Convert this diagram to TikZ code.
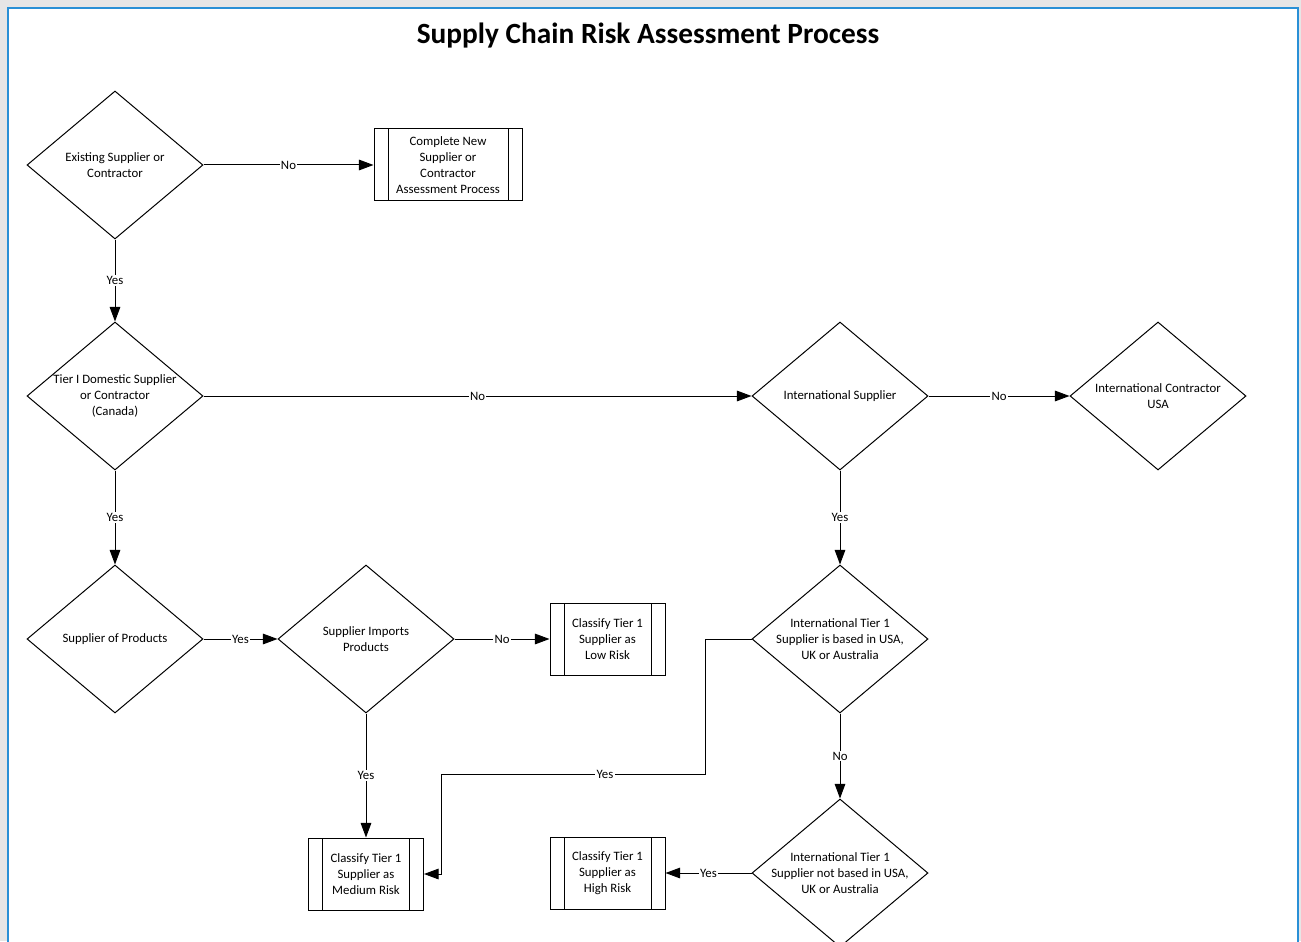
\documentclass[tikz,border=0pt]{standalone}
\usepackage{fontspec}
\setmainfont{Carlito}
\usetikzlibrary{shapes.geometric,arrows.meta}
\definecolor{frameblue}{RGB}{41,144,214}
\definecolor{pagegray}{RGB}{230,230,230}

\begin{document}
\begin{tikzpicture}[x=0.75pt,y=-0.75pt]
\tikzstyle{every node}=[font=\fontsize{9.6}{12}\selectfont]
\tikzstyle{decision}=[draw,diamond,inner sep=0pt,minimum width=132pt,minimum height=111pt,line width=0.75pt]
\tikzstyle{dtext}=[align=center,inner sep=0pt]
\tikzstyle{process}=[draw,rectangle,minimum width=86.25pt,minimum height=54pt,align=center,line width=0.75pt,
	path picture={\draw[line width=0.75pt] ([xshift=10.5pt]path picture bounding box.north west) -- ([xshift=10.5pt]path picture bounding box.south west);
	\draw[line width=0.75pt] ([xshift=-10.5pt]path picture bounding box.north east) -- ([xshift=-10.5pt]path picture bounding box.south east);}]
\tikzstyle{flow}=[draw,line width=0.75pt,-{Triangle[length=11pt,width=8pt]}]
\tikzstyle{lbl}=[fill=white,inner sep=1pt]
\useasboundingbox (0,0) rectangle (1301,941);
\fill[pagegray] (0,0) rectangle (1301,941);
\filldraw[fill=white,draw=frameblue,line width=1.7pt] (8,8) rectangle (1298,980);
\node[font=\fontsize{22}{26}\selectfont\bfseries] (title) at (648,36) {Supply Chain Risk Assessment Process};
\node[decision,label={[dtext]center:{Existing Supplier or\\Contractor}}] (existing) at (115,165) {};
\node[process,minimum width=111pt] (newassess) at (448,165) {Complete New\\Supplier or\\Contractor\\Assessment Process};
\node[decision,label={[dtext]center:{Tier I Domestic Supplier\\or Contractor\\(Canada)}}] (domestic) at (115,396) {};
\node[decision,label={[dtext]center:{International Supplier}}] (intl) at (840,396) {};
\node[decision,label={[dtext]center:{International Contractor\\USA}}] (contractor) at (1158,396) {};
\node[decision,label={[dtext]center:{Supplier of Products}}] (products) at (115,639) {};
\node[decision,label={[dtext]center:{Supplier Imports\\Products}}] (imports) at (366,639) {};
\node[process] (low) at (607.5,639) {Classify Tier 1\\Supplier as\\Low Risk};
\node[decision,label={[dtext]center:{International Tier 1\\Supplier is based in USA,\\UK or Australia}}] (based) at (840,639) {};
\node[decision,label={[dtext]center:{International Tier 1\\Supplier not based in USA,\\UK or Australia}}] (notbased) at (840,873) {};
\node[process] (medium) at (366,874) {Classify Tier 1\\Supplier as\\Medium Risk};
\node[process] (high) at (607.5,873) {Classify Tier 1\\Supplier as\\High Risk};
\coordinate (bend) at (441,774);
\draw[flow] (existing.east) -- node[lbl]{No} (newassess.west);
\draw[flow] (existing.south) -- node[lbl]{Yes} (domestic.north);
\draw[flow] (domestic.east) -- node[lbl]{No} (intl.west);
\draw[flow] (intl.east) -- node[lbl]{No} (contractor.west);
\draw[flow] (intl.south) -- node[lbl]{Yes} (based.north);
\draw[flow] (domestic.south) -- node[lbl]{Yes} (products.north);
\draw[flow] (products.east) -- node[lbl]{Yes} (imports.west);
\draw[flow] (imports.east) -- node[lbl]{No} (low.west);
\draw[flow] (imports.south) -- node[lbl]{Yes} (medium.north);
\draw[flow] (based.south) -- node[lbl]{No} (notbased.north);
\draw[flow] (notbased.west) -- node[lbl]{Yes} (high.east);
\draw[flow] (based.west) -- ++(-46,0) |- node[lbl,pos=0.69]{Yes} (bend) |- (medium.east);
\end{tikzpicture}
\end{document}
